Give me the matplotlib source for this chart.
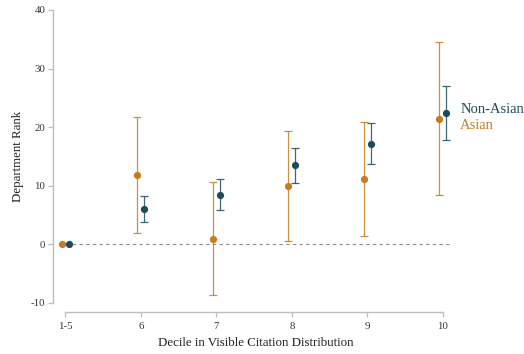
import matplotlib
matplotlib.use("Agg")
import matplotlib.pyplot as plt
import numpy as np

# Decile groups and estimated department rank with 95% CIs
deciles = ["1-5", "6", "7", "8", "9", "10"]

asian_est = [0.0, 11.9, 1.0, 9.95, 11.2, 21.4]
asian_lo = [0.0, 1.9, -8.6, 0.6, 1.5, 8.35]
asian_hi = [0.0, 21.7, 10.6, 19.3, 20.9, 34.5]

nonasian_est = [0.0, 6.1, 8.5, 13.5, 17.2, 22.5]
nonasian_lo = [0.0, 3.9, 5.9, 10.5, 13.7, 17.8]
nonasian_hi = [0.0, 8.2, 11.1, 16.5, 20.7, 27.1]

ORANGE = "#C47B22"
TEAL = "#1C4B5F"
SPINE = "#BDBDBD"

plt.rcParams["font.family"] = ["Liberation Serif", "DejaVu Serif"]
plt.rcParams["axes.unicode_minus"] = False

fig = plt.figure(figsize=(5.24, 3.54), dpi=100)
ax = fig.add_axes([0.1011, 0.1441, 0.7729, 0.8277])

x = np.arange(len(deciles))
off = 0.046


def draw(xpos, est, lo, hi, color, zorder):
    est = np.asarray(est)
    yerr = np.vstack([est - np.asarray(lo), np.asarray(hi) - est])
    has_ci = yerr.sum(axis=0) > 0
    ax.errorbar(xpos[has_ci], est[has_ci], yerr=yerr[:, has_ci], fmt="none",
                ecolor=color, elinewidth=0.9, capsize=2.6, capthick=0.9,
                alpha=0.85, zorder=zorder)
    ax.plot(xpos, est, "o", color=color, markersize=5.2, zorder=zorder + 1,
            markeredgewidth=0)


ax.hlines(0, -0.08, 5.12, colors="#8C8C8C", linestyles=(0, (3, 3)),
          linewidth=0.8, zorder=1)

draw(x - off, asian_est, asian_lo, asian_hi, ORANGE, 2)
draw(x + off, nonasian_est, nonasian_lo, nonasian_hi, TEAL, 4)

ax.set_xlim(-0.163, 5.2)
ax.set_ylim(-10, 40)

for s in ["top", "right"]:
    ax.spines[s].set_visible(False)
ax.spines["left"].set_color(SPINE)
ax.spines["bottom"].set_color(SPINE)
ax.spines["left"].set_linewidth(1.0)
ax.spines["bottom"].set_linewidth(1.0)
ax.spines["left"].set_bounds(-10, 40)
ax.spines["bottom"].set_bounds(0, 5)
ax.spines["bottom"].set_position(("outward", 6.5))

ax.set_xticks(x)
ax.set_xticklabels(deciles)
ax.set_yticks([-10, 0, 10, 20, 30, 40])
ax.tick_params(axis="both", colors=SPINE, labelcolor="#333333",
               labelsize=7.8, length=3.5, width=0.9)
ax.tick_params(axis="x", pad=4)
ax.tick_params(axis="y", pad=2)

ax.set_ylabel("Department Rank", fontsize=9.3, color="#222222", labelpad=5)
ax.set_xlabel("Decile in Visible Citation Distribution", fontsize=9.3,
              color="#222222", labelpad=4)

ax.text(5.23, 23.0, "Non-Asian", color=TEAL, fontsize=10.5, va="center",
        ha="left", clip_on=False)
ax.text(5.23, 20.3, "Asian", color=ORANGE, fontsize=10.5, va="center",
        ha="left", clip_on=False)

fig.savefig("out.png", dpi=100)
